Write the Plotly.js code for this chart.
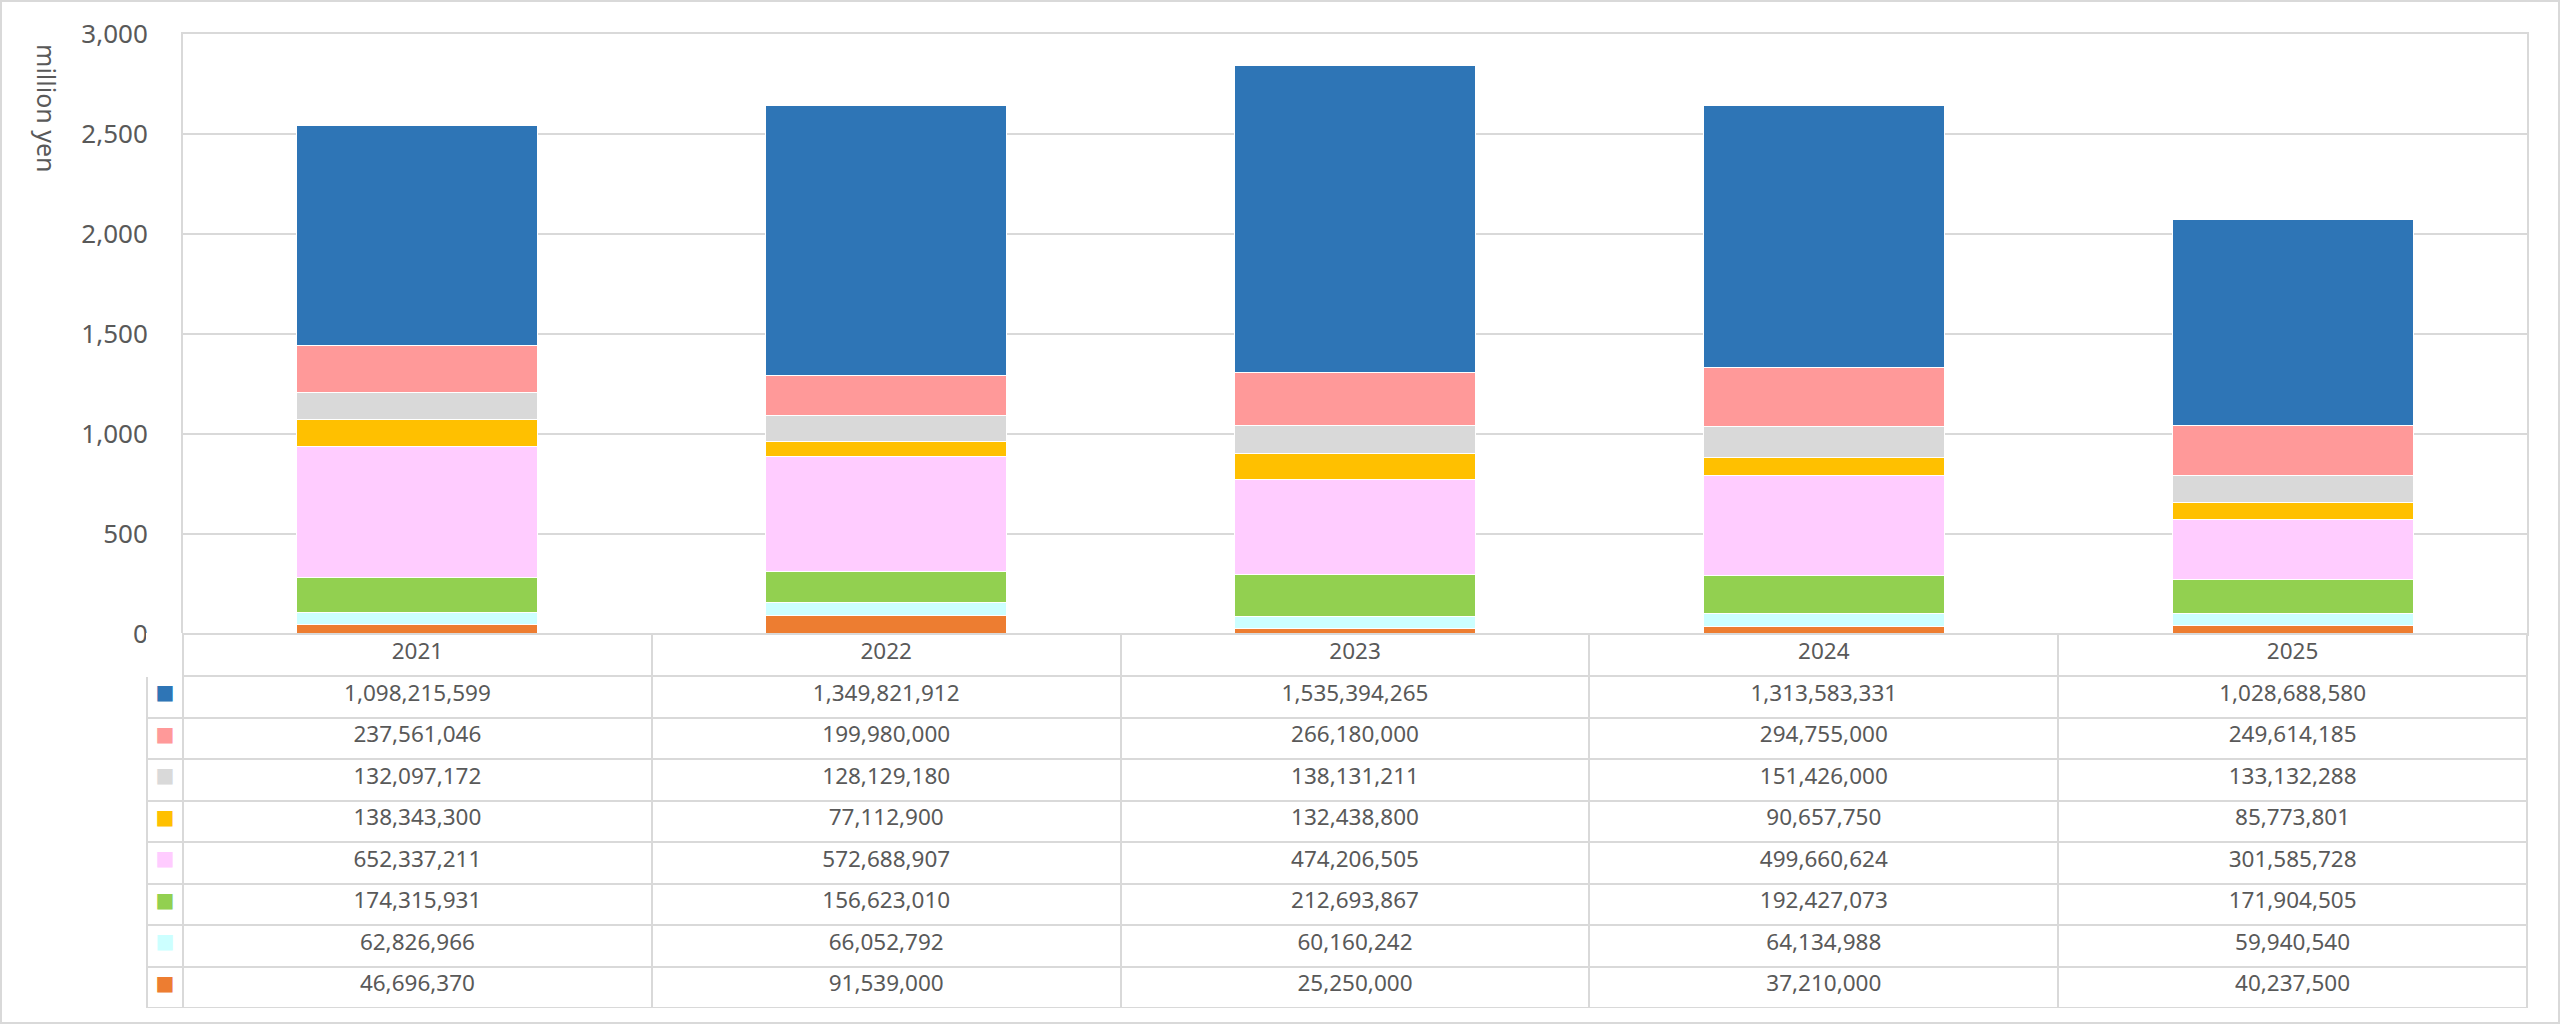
<!DOCTYPE html>
<html>
<head>
<meta charset="utf-8">
<script src="https://cdn.plot.ly/plotly-3.0.1.min.js"></script>
<style>
  html, body { margin: 0; padding: 0; background: #ffffff; }
  #chart { width: 2560px; height: 1024px; }
</style>
</head>
<body>
<div id="chart"></div>
<script>
// ------------------------------------------------------------
// Stacked yearly amounts (yen) with an Excel-style data table
// ------------------------------------------------------------

const years = ['2021', '2022', '2023', '2024', '2025'];

// series values in yen, one array per series (top of stack first)
const seriesBlue   = [1098215599, 1349821912, 1535394265, 1313583331, 1028688580];
const seriesSalmon = [237561046, 199980000, 266180000, 294755000, 249614185];
const seriesGray   = [132097172, 128129180, 138131211, 151426000, 133132288];
const seriesGold   = [138343300, 77112900, 132438800, 90657750, 85773801];
const seriesPink   = [652337211, 572688907, 474206505, 499660624, 301585728];
const seriesGreen  = [174315931, 156623010, 212693867, 192427073, 171904505];
const seriesCyan   = [62826966, 66052792, 60160242, 64134988, 59940540];
const seriesOrange = [46696370, 91539000, 25250000, 37210000, 40237500];

const yTickVals = [0, 500, 1000, 1500, 2000, 2500, 3000];

// table order (top row first) with the colour of each legend key
const rows = [
  { values: seriesBlue,   color: '#2E75B6' },
  { values: seriesSalmon, color: '#FF9999' },
  { values: seriesGray,   color: '#D9D9D9' },
  { values: seriesGold,   color: '#FFC000' },
  { values: seriesPink,   color: '#FFCCFF' },
  { values: seriesGreen,  color: '#92D050' },
  { values: seriesCyan,   color: '#CCFFFF' },
  { values: seriesOrange, color: '#ED7D31' }
];

const W = 2560, H = 1024;
const textColor = '#595959';
const lineColor = '#D9D9D9';
const fontFamily = '"Noto Sans", "Open Sans", "DejaVu Sans", sans-serif';

// pixel layout of the plot area and table
const plotLeft = 183, plotRight = 2527, plotTop = 34, plotBottom = 634;
const keyLeft = 147, tableBottom = 1008;

// bars are stacked bottom-up, so walk the table rows in reverse
const barTraces = rows.slice().reverse().map((r, i) => ({
  type: 'bar',
  x: years,
  y: r.values.map(v => v / 1e6),
  name: 'series ' + (8 - i),
  marker: { color: r.color, line: { color: '#ffffff', width: 1 } },
  hoverinfo: 'skip',
  showlegend: false
}));

const fmt = v => v.toLocaleString('en-US');

const tableTrace = {
  type: 'table',
  domain: {
    x: [keyLeft / W, plotRight / W],
    y: [(H - tableBottom) / H, (H - plotBottom) / H]
  },
  columnwidth: [plotLeft - keyLeft].concat(years.map(() => (plotRight - plotLeft) / years.length)),
  header: {
    values: [''].concat(years),
    height: 42,
    align: 'center',
    fill: { color: '#ffffff' },
    line: { color: ['#ffffff'].concat(years.map(() => lineColor)), width: 2 },
    font: { family: fontFamily, size: 22.5, color: textColor }
  },
  cells: {
    values: [rows.map(() => '■')].concat(years.map((y, j) => rows.map(r => fmt(r.values[j])))),
    height: 41.5,
    align: 'center',
    fill: { color: '#ffffff' },
    line: { color: lineColor, width: 2 },
    font: {
      family: fontFamily,
      size: [20].concat(years.map(() => 22.5)),
      color: [rows.map(r => r.color)].concat(years.map(() => rows.map(() => textColor)))
    }
  }
};

const layout = {
  width: W,
  height: H,
  paper_bgcolor: '#ffffff',
  plot_bgcolor: '#ffffff',
  margin: { l: 0, r: 0, t: 0, b: 0 },
  barmode: 'stack',
  bargap: 0.486,
  font: { family: fontFamily, color: textColor },
  xaxis: {
    domain: [plotLeft / W, plotRight / W],
    type: 'category',
    showticklabels: false,
    showgrid: false,
    showline: true,
    mirror: true,
    linecolor: lineColor,
    linewidth: 2,
    fixedrange: true
  },
  yaxis: {
    domain: [(H - plotBottom) / H, (H - plotTop) / H],
    range: [0, 3000],
    tickvals: yTickVals,
    tickformat: ',d',
    showgrid: true,
    gridcolor: lineColor,
    gridwidth: 2,
    zeroline: false,
    showline: true,
    mirror: true,
    linecolor: lineColor,
    linewidth: 2,
    ticks: '',
    ticklabelstandoff: 28,
    tickfont: { family: fontFamily, size: 26, color: textColor },
    fixedrange: true
  },
  annotations: [{
    text: 'million yen',
    xref: 'paper', yref: 'paper',
    x: 47 / W, y: (H - 108) / H,
    xanchor: 'center', yanchor: 'middle',
    textangle: 90,
    showarrow: false,
    font: { family: fontFamily, size: 25, color: textColor }
  }],
  shapes: [{
    type: 'rect',
    xref: 'paper', yref: 'paper',
    x0: 1 / W, x1: (W - 1) / W, y0: 1 / H, y1: (H - 1) / H,
    line: { color: lineColor, width: 2 }
  }]
};

Plotly.newPlot('chart', barTraces.concat([tableTrace]), layout, {
  displayModeBar: false,
  staticPlot: true
});
</script>
</body>
</html>
